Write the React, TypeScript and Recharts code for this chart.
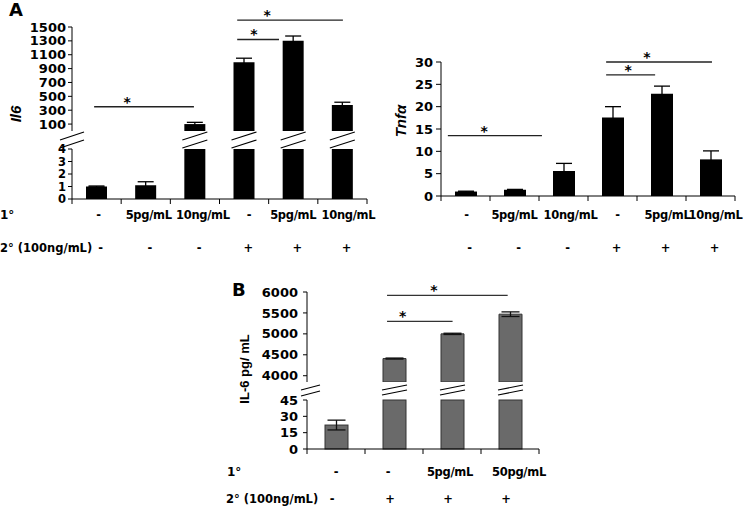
import {
    BarChart,
    Bar,
    XAxis,
    YAxis,
    ErrorBar,
    ReferenceLine,
} from 'recharts';

// conditions, panel A (qPCR)
const primaryA = ['-', '5pg/mL', '10ng/mL', '-', '5pg/mL', '10ng/mL'];
const secondaryA = ['-', '-', '-', '+', '+', '+'];
const il6Mean = [1.0, 1.1, 100, 990, 1300, 375];
const il6Err = [0.04, 0.28, 25, 60, 70, 40];
const tnfMean = [1.0, 1.4, 5.6, 17.6, 22.9, 8.2];
const tnfErr = [0.08, 0.08, 1.7, 2.4, 1.7, 1.9];

// conditions, panel B (ELISA)
const primaryB = ['-', '-', '5pg/mL', '50pg/mL'];
const secondaryB = ['-', '+', '+', '+'];
const il6ProtMean = [22, 4410, 5000, 5470];
const il6ProtErr = [4.5, 12, 15, 55];

// axis breaks and ticks
const IL6_LOW_MAX = 4;
const IL6_TOP_MAX = 1500;
const il6LowTicks = [0, 1, 2, 3, 4];
const il6TopTicks = [100, 300, 500, 700, 900, 1100, 1300, 1500];
const tnfTicks = [0, 5, 10, 15, 20, 25, 30];
const PROT_LOW_MAX = 45;
const PROT_TOP_MIN = 3850;
const protLowTicks = [0, 15, 30, 45];
const protTopTicks = [4000, 4500, 5000, 5500, 6000];

// significance brackets (x in group units from the left edge, y in data units)
const il6Sig = [
    { x1: 0.45, x2: 2.48, y: 350, star: 1.12 },
    { x1: 3.36, x2: 4.21, y: 1320, star: 3.7 },
    { x1: 3.36, x2: 5.51, y: 1600, star: 3.97 },
];
const tnfSig = [
    { x1: 0.14, x2: 2.06, y: 13.5, star: 0.88 },
    { x1: 3.37, x2: 4.37, y: 27.1, star: 3.82 },
    { x1: 3.37, x2: 5.53, y: 30, star: 4.2 },
];
const protSig = [
    { x1: 1.38, x2: 2.51, y: 5300, star: 1.65 },
    { x1: 1.38, x2: 3.46, y: 5920, star: 2.19 },
];

// label nudges (px) for the first row of condition labels
const shiftIl6 = [2, 3, 8, 5, 0, 6];
const shiftTnf = [1, 0, 7, 5, 6, 5];
const shiftProt = [0, -6, -2, 9];

const FONT = '"DejaVu Sans", sans-serif';
const TITLE_FONT = '"Liberation Sans", Arial, sans-serif';
const yTick = { fontFamily: FONT, fontWeight: 700, fontSize: 13, fill: '#000' };
const yTickSmall = { ...yTick, fontSize: 11.5 };

const keysA = primaryA.map((_, i) => 'a' + i);
const keysB = primaryB.map((_, i) => 'b' + i);

const il6Top = keysA.map((k, i) => ({
    k,
    pos: i + 0.5,
    v: il6Mean[i] > IL6_LOW_MAX ? il6Mean[i] : null,
    e: il6Mean[i] > IL6_LOW_MAX ? il6Err[i] : null,
}));
const il6Low = keysA.map((k, i) => ({
    k,
    v: Math.min(il6Mean[i], IL6_LOW_MAX),
    e: il6Mean[i] > IL6_LOW_MAX ? null : il6Err[i],
    broken: il6Mean[i] > IL6_LOW_MAX,
}));
const tnfData = keysA.map((k, i) => ({ k, pos: i + 0.5, v: tnfMean[i], e: tnfErr[i] }));
const protTop = keysB.map((k, i) => ({
    k,
    pos: i + 0.5,
    v: il6ProtMean[i] > PROT_LOW_MAX ? il6ProtMean[i] : null,
    e: il6ProtMean[i] > PROT_LOW_MAX ? il6ProtErr[i] : null,
}));
const protLow = keysB.map((k, i) => ({
    k,
    v: Math.min(il6ProtMean[i], PROT_LOW_MAX),
    e: il6ProtMean[i] > PROT_LOW_MAX ? null : il6ProtErr[i],
    broken: il6ProtMean[i] > PROT_LOW_MAX,
}));

// x axis tick: boundary tick marks plus the two rows of condition labels
const rowTick = (keys: string[], first: string[], second: string[], bw: number, dy1: number, dy2: number, shift: number[], dx2: number) =>
    (props: any) => {
        const { x, y, payload } = props;
        const i = keys.indexOf(payload.value);
        const txt = { fontFamily: FONT, fontWeight: 700, fontSize: 11.5, letterSpacing: -0.3, fill: '#000', textAnchor: 'middle' as const };
        return (
            <g>
                <line x1={x - bw / 2} y1={y} x2={x - bw / 2} y2={y + 5} stroke='#000' />
                {i === keys.length - 1 && <line x1={x + bw / 2} y1={y} x2={x + bw / 2} y2={y + 5} stroke='#000' />}
                <text x={x + shift[i]} y={y + dy1} {...txt}>{first[i]}</text>
                <text x={x + dx2} y={y + dy2} {...txt}>{second[i]}</text>
            </g>
        );
    };

// bar with the break marks drawn above it when its value runs past the lower panel
const brokenBar = (lo: number, hi: number, pad: number, stroke?: string) => (props: any) => {
    const { x, y, width, height, fill, payload } = props;
    return (
        <g>
            <rect x={x} y={y} width={width} height={height} fill={fill} stroke={stroke} />
            {payload.broken && (
                <g stroke='#000' strokeWidth={1.1}>
                    <line x1={x - pad} y1={y - lo} x2={x + width + pad} y2={y - hi} />
                    <line x1={x - pad} y1={y - hi} x2={x + width + pad} y2={y - 2 * hi + lo} />
                </g>
            )}
        </g>
    );
};

const sigMarks = (sig: { x1: number; x2: number; y: number; star: number }[], bw: number, color = '#222') =>
    sig.map((s, i) => (
        <ReferenceLine
            key={'l' + i}
            xAxisId='num'
            segment={[{ x: s.x1, y: s.y }, { x: s.x2, y: s.y }]}
            stroke={color}
            strokeWidth={1.3}
            ifOverflow='visible'
            label={{
                value: '*',
                position: 'top',
                offset: 0,
                dx: (s.star - (s.x1 + s.x2) / 2) * bw,
                fontFamily: FONT,
                fontWeight: 700,
                fontSize: 14,
                fill: '#000',
                stroke: 'none',
            }}
        />
    ));

const box = (left: number, top: number) => ({ position: 'absolute' as const, left, top });

export default function App() {
    return (
        <div style={{ position: 'absolute', left: 0, top: 0, width: 745, height: 507, background: '#fff', overflow: 'hidden' }}>
            {/* Il6, upper part of broken axis */}
            <div style={box(0, 0)}>
                <BarChart width={380} height={135} data={il6Top} margin={{ top: 27, right: 13, bottom: 4, left: 0 }}>
                    <XAxis dataKey='k' hide />
                    <XAxis xAxisId='num' dataKey='pos' type='number' domain={[0, keysA.length]} allowDataOverflow hide />
                    <YAxis width={72} domain={[0, IL6_TOP_MAX]} ticks={il6TopTicks} allowDataOverflow interval={0} tick={yTick} tickSize={4} tickMargin={2} stroke='#000' />
                    <Bar dataKey='v' fill='#000' barSize={21} isAnimationActive={false}>
                        <ErrorBar dataKey='e' width={8} stroke='#000' strokeWidth={1.3} />
                    </Bar>
                    {sigMarks(il6Sig, 295 / 6)}
                </BarChart>
            </div>
            {/* Il6, lower part */}
            <div style={box(0, 122)}>
                <BarChart width={380} height={138} data={il6Low} margin={{ top: 27, right: 13, bottom: 0, left: 0 }}>
                    <XAxis dataKey='k' height={61} interval={0} tickLine={false} tickSize={0} tickMargin={0} stroke='#000'
                        tick={rowTick(keysA, primaryA, secondaryA, 295 / 6, 20, 53, shiftIl6, 4)} />
                    <YAxis width={72} domain={[0, IL6_LOW_MAX]} ticks={il6LowTicks} interval={0} tick={yTickSmall} tickSize={4} tickMargin={2} stroke='#000' />
                    <Bar dataKey='v' fill='#000' barSize={21} isAnimationActive={false} shape={brokenBar(1, 9, 2)}>
                        <ErrorBar dataKey='e' width={8} stroke='#000' strokeWidth={1.3} />
                    </Bar>
                </BarChart>
            </div>
            {/* Tnfa */}
            <div style={box(380, 40)}>
                <BarChart width={365} height={225} data={tnfData} margin={{ top: 22, right: 10, bottom: 0, left: 0 }}>
                    <XAxis dataKey='k' height={69} interval={0} tickLine={false} tickSize={0} tickMargin={0} stroke='#000'
                        tick={rowTick(keysA, primaryA, secondaryA, 294 / 6, 23, 56, shiftTnf, 4)} />
                    <XAxis xAxisId='num' dataKey='pos' type='number' domain={[0, keysA.length]} allowDataOverflow hide />
                    <YAxis width={61} domain={[0, 30]} ticks={tnfTicks} interval={0} tick={yTick} tickSize={5} tickMargin={3} stroke='#000' />
                    <Bar dataKey='v' fill='#000' barSize={22} isAnimationActive={false}>
                        <ErrorBar dataKey='e' width={8} stroke='#000' strokeWidth={1.3} />
                    </Bar>
                    {sigMarks(tnfSig, 294 / 6)}
                </BarChart>
            </div>
            {/* IL-6 protein, upper part */}
            <div style={box(180, 270)}>
                <BarChart width={380} height={115} data={protTop} margin={{ top: 22, right: 21, bottom: 3, left: 0 }}>
                    <XAxis dataKey='k' hide />
                    <XAxis xAxisId='num' dataKey='pos' type='number' domain={[0, keysB.length]} allowDataOverflow hide />
                    <YAxis width={127} domain={[PROT_TOP_MIN, 6000]} ticks={protTopTicks} allowDataOverflow interval={0} tick={yTick} tickSize={4} tickMargin={5} stroke='#000' />
                    <Bar dataKey='v' fill='#6a6a6a' stroke='#333' barSize={23} isAnimationActive={false}>
                        <ErrorBar dataKey='e' width={9} stroke='#111' strokeWidth={1.3} />
                    </Bar>
                    {sigMarks(protSig, 232 / 4, '#333')}
                </BarChart>
            </div>
            {/* IL-6 protein, lower part */}
            <div style={box(180, 375)}>
                <BarChart width={380} height={132} data={protLow} margin={{ top: 25, right: 21, bottom: 0, left: 0 }}>
                    <XAxis dataKey='k' height={58} interval={0} tickLine={false} tickSize={0} tickMargin={0} stroke='#000'
                        tick={rowTick(keysB, primaryB, secondaryB, 232 / 4, 27, 54, shiftProt, -4)} />
                    <YAxis width={127} domain={[0, PROT_LOW_MAX]} ticks={protLowTicks} interval={0} tick={yTick} tickSize={4} tickMargin={5} stroke='#000' />
                    <Bar dataKey='v' fill='#6a6a6a' stroke='#333' barSize={23} isAnimationActive={false} shape={brokenBar(5, 10, 1, '#333')}>
                        <ErrorBar dataKey='e' width={9} stroke='#111' strokeWidth={1.3} />
                    </Bar>
                </BarChart>
            </div>
            {/* panel letters, axis titles, row headers, axis break marks */}
            <svg width={745} height={507} style={{ position: 'absolute', left: 0, top: 0, pointerEvents: 'none' }}>
                <g fontFamily={FONT} fontWeight={700} fill='#000'>
                    <text x={9} y={16} fontSize={18}>A</text>
                    <text x={232} y={296} fontSize={18}>B</text>
                    <text x={0} y={219} fontSize={12}>1°</text>
                    <text x={0} y={252} fontSize={11.5}>2° (100ng/mL)</text>
                    <text x={227} y={476} fontSize={12}>1°</text>
                    <text x={226} y={503} fontSize={11.5}>2° (100ng/mL)</text>
                </g>
                <g fontFamily={TITLE_FONT} fontWeight={700} fill='#000' textAnchor='middle'>
                    <text transform='translate(21,114) rotate(-90)' fontSize={15} fontStyle='italic'>Il6</text>
                    <text transform='translate(406,121) rotate(-90)' fontSize={15} fontStyle='italic'>Tnfα</text>
                    <text transform='translate(249,369) rotate(-90)' fontSize={13}>IL-6 pg/ mL</text>
                </g>
                <g stroke='#000' strokeWidth={1.1}>
                    <line x1={60} y1={140} x2={84} y2={132} />
                    <line x1={60} y1={148} x2={84} y2={140} />
                    <line x1={301} y1={390} x2={320} y2={385} />
                    <line x1={301} y1={396} x2={320} y2={391} />
                </g>
            </svg>
        </div>
    );
}
